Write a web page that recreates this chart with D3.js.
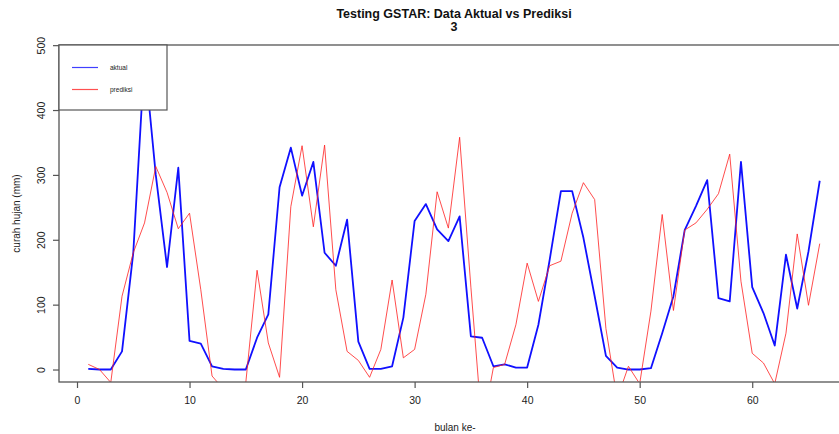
<!DOCTYPE html>
<html><head><meta charset="utf-8">
<script src="https://cdn.jsdelivr.net/npm/d3@7"></script>
<style>html,body{margin:0;padding:0;background:#fff;}svg{display:block;font-family:"Liberation Sans",Arial,sans-serif;}</style>
</head><body>
<svg id="chart" width="839" height="434"></svg>
<script>
const titleLines = ["Testing GSTAR: Data Aktual vs Prediksi", "3"];
const xLabel = "bulan ke-";
const yLabel = "curah hujan (mm)";
const legendLabels = ["aktual", "prediksi"];
const bulan = [1,2,3,4,5,6,7,8,9,10,11,12,13,14,15,16,17,18,19,20,21,22,23,24,25,26,27,28,29,30,31,32,33,34,35,36,37,38,39,40,41,42,43,44,45,46,47,48,49,50,51,52,53,54,55,56,57,58,59,60,61,62,63,64,65,66];
const aktual = [1,0,0,28,180,481,300,158,311,44,40,5,1,0,0,49,85,281,342,268,320,180,160,231,43,1,1,5,80,229,255,216,198,236,51,49,5,8,3,3,69,169,275,275,203,113,21,3,0,0,2,56,113,215,252,292,110,105,320,127,87,37,177,94,182,291];
const prediksi = [8,0,-20,113,180,226,313,273,217,241,123,-10,-30,-35,-20,153,41,-12,251,345,220,346,123,28,14,-12,31,138,18,31,116,274,218,358,127,-90,3,8,69,164,105,160,167,241,288,262,63,-45,5,-22,90,239,91,215,226,247,271,332,136,25,10,-22,56,209,99,194];
const xTicks = [0,10,20,30,40,50,60];
const yTicks = [0,100,200,300,400,500];

const svg = d3.select("#chart");
const L = 59, R = 849, T = 45, B = 382;
const xPad = (d3.max(bulan) - d3.min(bulan)) * 0.04;
const yPad = (d3.max(aktual) - d3.min(aktual)) * 0.04;
const x = d3.scaleLinear().domain([d3.min(bulan) - xPad, d3.max(bulan) + xPad]).range([L, R]);
const y = d3.scaleLinear().domain([d3.min(aktual) - yPad, d3.max(aktual) + yPad]).range([B, T]);

svg.append("defs").append("clipPath").attr("id","clip")
  .append("rect").attr("x", L).attr("y", T).attr("width", R - L).attr("height", B - T);

const line = d3.line().x((d,i) => x(bulan[i])).y(d => y(d));
const g = svg.append("g").attr("clip-path","url(#clip)");
g.append("path").datum(aktual).attr("d", line).attr("fill","none").attr("stroke","#1010ff").attr("stroke-width",1.8).attr("stroke-linejoin","round");
g.append("path").datum(prediksi).attr("d", line).attr("fill","none").attr("stroke","#ff2020").attr("stroke-width",1).attr("stroke-opacity",0.8).attr("stroke-linejoin","round");

// box
svg.append("rect").attr("x", L).attr("y", T).attr("width", R - L).attr("height", B - T)
  .attr("fill","none").attr("stroke","#555").attr("stroke-width",1.3);

// axes
const xAxis = d3.axisBottom(x).tickValues(xTicks).tickSize(6).tickPadding(9).tickFormat(d3.format("d"));
const gx = svg.append("g").attr("transform",`translate(0,${B})`).call(xAxis);
gx.select(".domain").remove();
gx.selectAll("line").attr("stroke","#555").attr("stroke-width",1.2);
gx.selectAll("text").attr("font-size","10.5px").attr("fill","#222").attr("font-family","Liberation Sans, Arial, sans-serif");

const yAxis = d3.axisLeft(y).tickValues(yTicks).tickSize(6).tickFormat(d3.format("d"));
const gy = svg.append("g").attr("transform",`translate(${L},0)`).call(yAxis);
gy.select(".domain").remove();
gy.selectAll("line").attr("stroke","#555").attr("stroke-width",1.2);
gy.selectAll("text").remove();
gy.selectAll(".tick").append("text")
  .attr("transform","translate(-18,0) rotate(-90)")
  .attr("text-anchor","middle").attr("dy","0.35em")
  .attr("font-size","10.5px").attr("fill","#222")
  .text(d => d);

// labels
svg.append("text").attr("x", 455).attr("y", 431).attr("text-anchor","middle")
  .attr("font-size","10px").attr("fill","#222").text(xLabel);
svg.append("text").attr("transform",`translate(20,${(T+B)/2}) rotate(-90)`).attr("text-anchor","middle")
  .attr("font-size","10px").attr("fill","#222").text(yLabel);

// title
titleLines.forEach((t,i) => {
  svg.append("text").attr("x", 454).attr("y", 18 + i*13).attr("text-anchor","middle")
    .attr("font-size","12.5px").attr("font-weight","bold").attr("fill","#111").text(t);
});

// legend
const lg = svg.append("g");
lg.append("rect").attr("x", L).attr("y", T).attr("width", 108).attr("height", 65)
  .attr("fill","#fff").attr("stroke","#555").attr("stroke-width",1.2);
const legColors = ["#4040ff","#ff5050"];
legendLabels.forEach((lab,i) => {
  const yy = 67.5 + i*22;
  lg.append("line").attr("x1",72).attr("x2",98).attr("y1",yy).attr("y2",yy)
    .attr("stroke",legColors[i]).attr("stroke-width",1.2);
  lg.append("text").attr("x",110).attr("y",yy).attr("dy","0.35em")
    .attr("font-size","6.5px").attr("fill","#222").text(lab);
});
</script>
</body></html>
